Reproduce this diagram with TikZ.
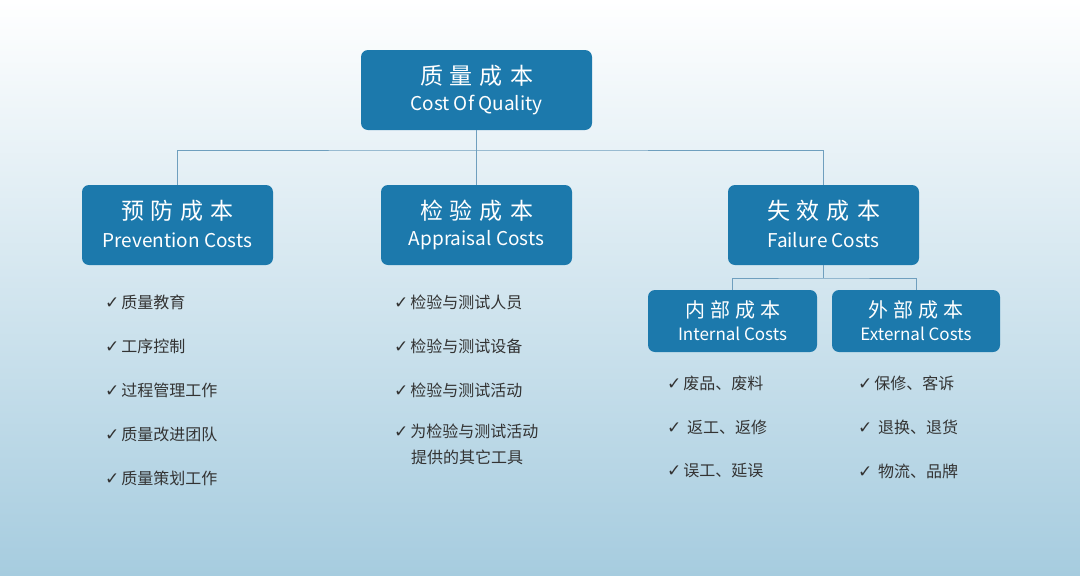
\documentclass[tikz,border=0pt]{standalone}
\usepackage{fontspec}
\setmainfont{Noto Sans CJK SC}
\newfontfamily\chk{DejaVu Sans}
\definecolor{boxc}{HTML}{1C79AC}
\definecolor{linec}{HTML}{6F9FBE}
\definecolor{txtc}{HTML}{333333}
\definecolor{bgtop}{HTML}{FFFFFF}
\definecolor{bgbot}{HTML}{A6CCDF}
\tikzset{
 hbox/.style={fill=boxc,rounded corners=7pt,text=white,inner sep=0pt},
 conn/.style={draw=linec,line width=0.9pt},
 item/.style={anchor=west,text=txtc,font=\fontsize{16}{26}\selectfont,align=left,inner sep=0pt}
}
\newcommand{\ck}{{\chk\fontsize{17}{20}\selectfont ✓}\hspace{2pt}}
\newcommand{\bigcn}[1]{\fontsize{23}{28}\selectfont #1}
\newcommand{\midcn}[1]{\fontsize{20}{24}\selectfont #1}
\newcommand{\gapcn}{\hspace{7pt}}
\begin{document}
\begin{tikzpicture}[x=1pt,y=-1pt]
\useasboundingbox (0,0) rectangle (1080,576);
\shade[top color=bgtop,bottom color=bgbot] (0,0) rectangle (1080,576);
\node[hbox,minimum width=231pt,minimum height=80pt] (top) at (476.5,90) {};
\node[hbox,minimum width=191pt,minimum height=80pt] (pre) at (177.5,225) {};
\node[hbox,minimum width=191pt,minimum height=80pt] (app) at (476.5,225) {};
\node[hbox,minimum width=191pt,minimum height=80pt] (fai) at (823.5,225) {};
\node[hbox,minimum width=169pt,minimum height=62pt] (int) at (732.5,321) {};
\node[hbox,minimum width=168pt,minimum height=62pt] (ext) at (916,321) {};
\begin{scope}[every node/.style={text=white,inner sep=0pt}]
\node (topc) at (476.5,76) {\bigcn{质\gapcn 量\gapcn 成\gapcn 本}};
\node (tope) at (476.5,105) {\fontsize{19}{22}\selectfont Cost Of Quality};
\node (prec) at (177.5,211) {\bigcn{预\gapcn 防\gapcn 成\gapcn 本}};
\node (pree) at (177.5,240) {\fontsize{19}{22}\selectfont Prevention Costs};
\node (appc) at (476.5,211) {\bigcn{检\gapcn 验\gapcn 成\gapcn 本}};
\node (appe) at (476.5,240) {\fontsize{19}{22}\selectfont Appraisal Costs};
\node (faic) at (823.5,211) {\bigcn{失\gapcn 效\gapcn 成\gapcn 本}};
\node (faie) at (823.5,240) {\fontsize{19}{22}\selectfont Failure Costs};
\node (intc) at (732.5,310) {\midcn{内\hspace{5pt}部\hspace{5pt}成\hspace{5pt}本}};
\node (inte) at (732.5,334) {\fontsize{17}{20}\selectfont Internal Costs};
\node (extc) at (916,310) {\midcn{外\hspace{5pt}部\hspace{5pt}成\hspace{5pt}本}};
\node (exte) at (916,334) {\fontsize{17}{20}\selectfont External Costs};
\end{scope}
\coordinate (j1) at (476.5,150);
\coordinate (j2) at (823.5,278);
\draw[conn] (top.south) -- (j1);
\draw[conn] (pre.north) |- (j1) -| (fai.north);
\draw[conn] (j1) -- (app.north);
\draw[conn] (fai.south) -- (j2);
\draw[conn] (int.north) |- (j2) -| (ext.north);
\node[item] (p1) at (105,302) {\ck 质量教育};
\node[item] (p2) at (105,346) {\ck 工序控制};
\node[item] (p3) at (105,390) {\ck 过程管理工作};
\node[item] (p4) at (105,434) {\ck 质量改进团队};
\node[item] (p5) at (105,478) {\ck 质量策划工作};
\node[item] (a1) at (394,302) {\ck 检验与测试人员};
\node[item] (a2) at (394,346) {\ck 检验与测试设备};
\node[item] (a3) at (394,390) {\ck 检验与测试活动};
\node[item,anchor=north west] (a4) at (394,424) {\ck 为检验与测试活动\\\hspace*{17pt}提供的其它工具};
\node[item] (i1) at (667,383) {\ck 废品、废料};
\node[item] (i2) at (667,427) {\ck\ 返工、返修};
\node[item] (i3) at (667,471) {\ck 误工、延误};
\node[item] (e1) at (858,383) {\ck 保修、客诉};
\node[item] (e2) at (858,427) {\ck\ 退换、退货};
\node[item] (e3) at (858,471) {\ck\ 物流、品牌};
\end{tikzpicture}
\end{document}
